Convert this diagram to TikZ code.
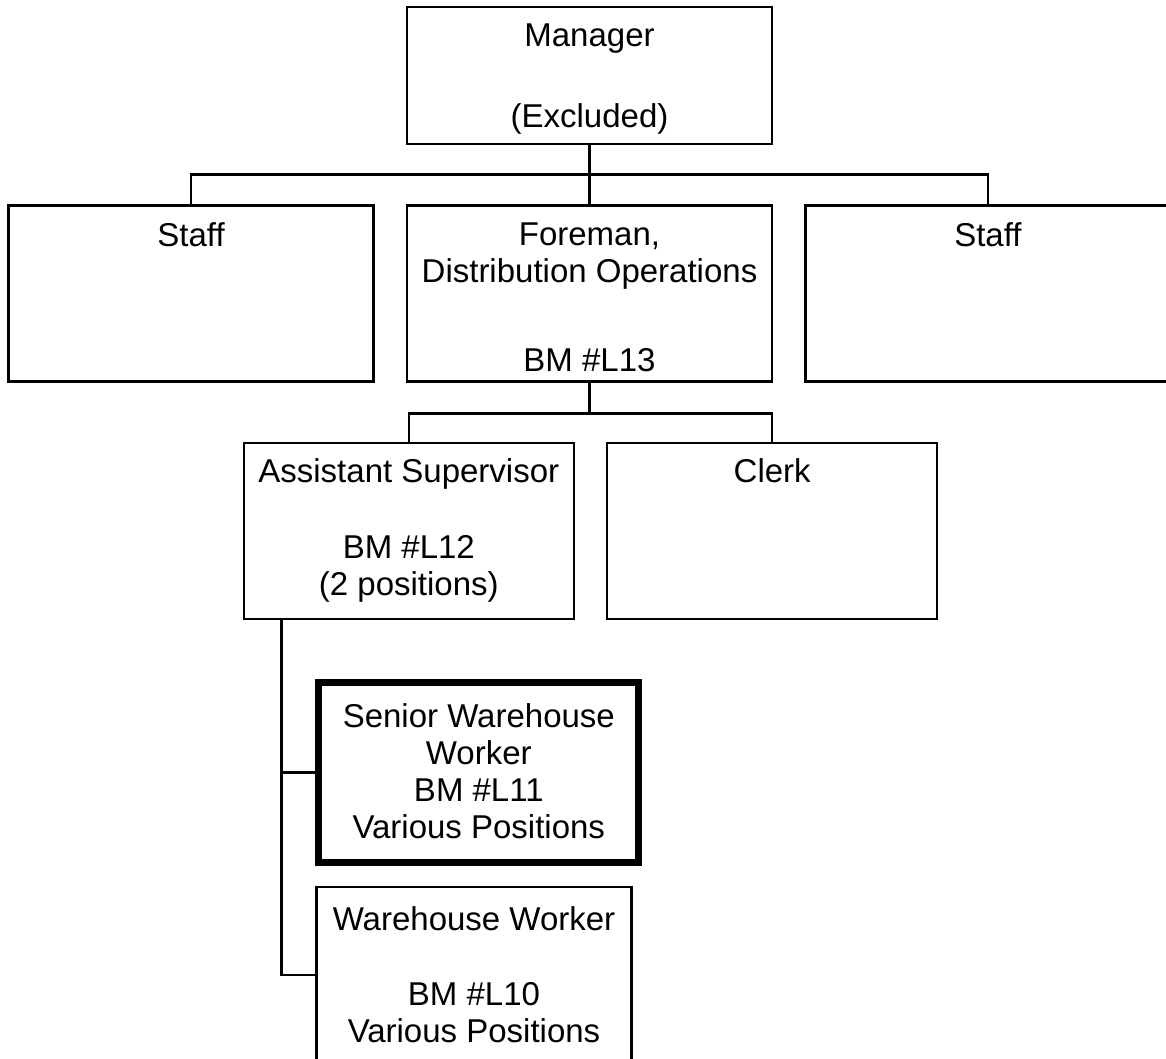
\documentclass[tikz,border=0pt]{standalone}
\usepackage{fontspec}
\setmainfont{Liberation Sans}
\usetikzlibrary{positioning}

\newcommand{\boxtext}[4]{\parbox[c][#2][t]{#1}{\centering\rule{0pt}{#3}#4}}

\tikzset{
  orgbox/.style={draw, inner sep=0pt},
  keybox/.style={orgbox, line width=7pt},
}

\begin{document}
\begin{tikzpicture}[x=1pt, y=1pt, line width=2.4pt, node distance=59pt and 31pt, font=\fontsize{33}{37}\selectfont]
	\useasboundingbox (0,0) rectangle (1166,-1059);
	\node[orgbox] (manager) at (589.5,-75.5) {\boxtext{365pt}{137pt}{40pt}{Manager\\[44pt](Excluded)}};
	\node[orgbox, below=of manager]                  (foreman) {\boxtext{365pt}{176pt}{40pt}{Foreman,\\Distribution Operations\\[52pt]BM \#L13}};
	\node[orgbox, left=of foreman]                   (staffL)  {\boxtext{365pt}{176pt}{41pt}{Staff}};
	\node[orgbox, right=of foreman]                  (staffR)  {\boxtext{365pt}{176pt}{41pt}{Staff}};
	\node[orgbox, below=of foreman.south west, xshift=3pt] (assist) {\boxtext{330pt}{176pt}{40pt}{Assistant Supervisor\\[39pt]BM \#L12\\(2 positions)}};
	\node[orgbox, right=of assist]                   (clerk)   {\boxtext{330pt}{176pt}{40pt}{Clerk}};
	\node[keybox, below=of assist, xshift=70pt]      (senior)  {\boxtext{320pt}{180pt}{44.5pt}{Senior Warehouse\\Worker\\BM \#L11\\Various Positions}};
	\node[orgbox, below=20pt of senior.south west, anchor=north west] (worker) {\boxtext{315pt}{176pt}{43pt}{Warehouse Worker\\[38pt]BM \#L10\\Various Positions}};
	\path (manager.south) -- (foreman.north) coordinate[midway] (mgrbus);
	\draw (manager) -- (foreman);
	\draw (staffL.north) |- (mgrbus) -| (staffR.north);
	\draw (foreman.south) -- ++(0,-31) coordinate (forebus);
	\draw (assist.north) |- (forebus) -| (clerk.north);
	\coordinate (trunk) at ([xshift=39pt]assist.south west);
	\draw (trunk) |- (senior.west);
	\draw (trunk) |- (worker.west);
\end{tikzpicture}
\end{document}
